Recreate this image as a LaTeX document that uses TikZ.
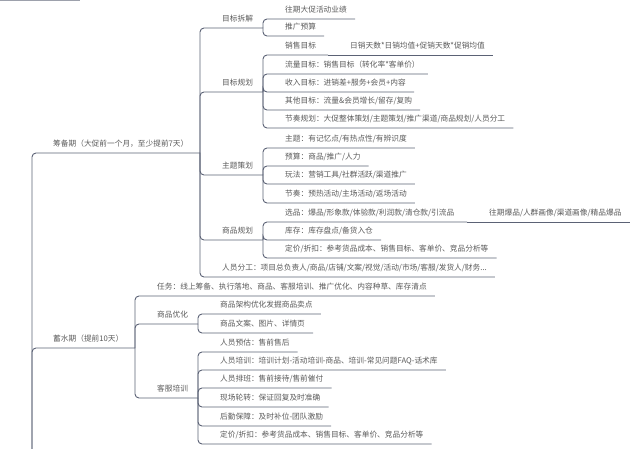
\documentclass[tikz,border=0pt]{standalone}
\usepackage{fontspec}
\setmainfont{Noto Sans CJK SC}
\usetikzlibrary{calc}
\definecolor{linec}{HTML}{5B6275}
\definecolor{txtc}{HTML}{5A5A5A}
\tikzset{
  topic/.style={anchor=south west,inner xsep=8pt,inner ysep=0pt,text depth=6.3pt,text=txtc,font=\fontsize{7.7}{9}\selectfont},
  branch/.style={draw=linec,line width=0.9pt,rounded corners=4pt},
}

\begin{document}
\begin{tikzpicture}[x=1pt,y=-1pt]
\useasboundingbox (0,0) rectangle (640,449);
\clip (0,0) rectangle (640,449);
\draw[draw=linec!60,line width=1.2pt] (0,0.6) -- (80,0.6);
% first level
\coordinate (root) at (32,480);
\node[topic] (cbq) at (45,153) {筹备期（大促前一个月，至少提前7天）};
\coordinate (cbq-b) at (200,153);
\node[topic] (xsq) at (45,348) {蓄水期（提前10天）};
\coordinate (xsq-b) at (135,348);
\draw[branch] (root) |- (cbq-b);
\draw[branch] (root) |- (xsq-b);
% 筹备期
\node[topic] (mbcj) at (214,28) {目标拆解};
\coordinate (mbcj-b) at (263,28);
\node[topic] (mbgh) at (214,92) {目标规划};
\coordinate (mbgh-b) at (263,92);
\node[topic] (ztch) at (214,175) {主题策划};
\coordinate (ztch-b) at (263,175);
\node[topic] (spgh) at (214,240) {商品规划};
\coordinate (spgh-b) at (263,240);
\node[topic] (ryfg) at (214,277) {人员分工：项目总负责人/商品/店铺/文案/视觉/活动/市场/客服/发货人/财务...};
\draw[branch] (cbq-b) |- (mbcj-b);
\draw[branch] (cbq-b) |- (mbgh-b);
\draw[branch] (cbq-b) |- (ztch-b);
\draw[branch] (cbq-b) |- (spgh-b);
\draw[branch] (cbq-b) |- (ryfg.south east);
% 目标拆解
\node[topic] (wqyj) at (277,19) {往期大促活动业绩};
\node[topic] (tgys) at (277,36) {推广预算};
\draw[branch] (mbcj-b) |- (wqyj.south east);
\draw[branch] (mbcj-b) |- (tgys.south east);
% 目标规划
\node[topic] (xsmb) at (277,55) {销售目标};
\coordinate (xsmb-b) at (328,55);
\node[topic] (rxts) at (342,55) {日销天数*日销均值+促销天数*促销均值};
\node[topic] (llmb) at (277,74) {流量目标：销售目标（转化率*客单价）};
\node[topic] (srmb) at (277,92) {收入目标：进销差+服务+会员+内容};
\node[topic] (qtmb) at (277,110) {其他目标：流量\&会员增长/留存/复购};
\node[topic] (jzgh) at (277,128) {节奏规划：大促整体策划/主题策划/推广渠道/商品规划/人员分工};
\draw[branch] (mbgh-b) |- (xsmb-b);
\draw[branch] (xsmb-b) -- (rxts.south east);
\draw[branch] (mbgh-b) |- (llmb.south east);
\draw[branch] (mbgh-b) |- (srmb.south east);
\draw[branch] (mbgh-b) |- (qtmb.south east);
\draw[branch] (mbgh-b) |- (jzgh.south east);
% 主题策划
\node[topic] (zt) at (277,148) {主题：有记忆点/有热点性/有辨识度};
\node[topic] (ys) at (277,166) {预算：商品/推广/人力};
\node[topic] (wf) at (277,184) {玩法：营销工具/社群活跃/渠道推广};
\node[topic] (jz) at (277,203) {节奏：预热活动/主场活动/返场活动};
\draw[branch] (ztch-b) |- (zt.south east);
\draw[branch] (ztch-b) |- (ys.south east);
\draw[branch] (ztch-b) |- (wf.south east);
\draw[branch] (ztch-b) |- (jz.south east);
% 商品规划
\node[topic] (xp) at (277,222) {选品：爆品/形象款/体验款/利润款/清仓款/引流品};
\coordinate (xp-b) at (467,222);
\node[topic] (wqbp) at (481,222) {往期爆品/人群画像/渠道画像/精品爆品};
\node[topic] (kc) at (277,240) {库存：库存盘点/备货入仓};
\node[topic] (djzk) at (277,258) {定价/折扣：参考货品成本、销售目标、客单价、竞品分析等};
\draw[branch] (spgh-b) |- (xp-b);
\draw[branch] (xp-b) -- (wqbp.south east);
\draw[branch] (spgh-b) |- (kc.south east);
\draw[branch] (spgh-b) |- (djzk.south east);
% 蓄水期
\node[topic] (rw) at (149,296) {任务：线上筹备、执行落地、商品、客服培训、推广优化、内容种草、库存清点};
\node[topic] (spyh) at (149,324) {商品优化};
\coordinate (spyh-b) at (198,324);
\node[topic] (kfpx) at (149,398) {客服培训};
\coordinate (kfpx-b) at (198,398);
\draw[branch] (xsq-b) |- (rw.south east);
\draw[branch] (xsq-b) |- (spyh-b);
\draw[branch] (xsq-b) |- (kfpx-b);
% 商品优化
\node[topic] (spjg) at (212,314) {商品架构优化发掘商品卖点};
\node[topic] (spwa) at (212,333) {商品文案、图片、详情页};
\draw[branch] (spyh-b) |- (spjg.south east);
\draw[branch] (spyh-b) |- (spwa.south east);
% 客服培训
\node[topic] (rypg) at (212,352) {人员预估：售前售后};
\node[topic] (rypx) at (212,370) {人员培训：培训计划-活动培训-商品、培训-常见问题FAQ-话术库};
\node[topic] (rypb) at (212,388) {人员排班：售前接待/售前催付};
\node[topic] (xclz) at (212,407) {现场轮转：保证回复及时准确};
\node[topic] (hqbz) at (212,426) {后勤保障：及时补位-团队激励};
\node[topic] (djzk2) at (212,444) {定价/折扣：参考货品成本、销售目标、客单价、竞品分析等};
\draw[branch] (kfpx-b) |- (rypg.south east);
\draw[branch] (kfpx-b) |- (rypx.south east);
\draw[branch] (kfpx-b) |- (rypb.south east);
\draw[branch] (kfpx-b) |- (xclz.south east);
\draw[branch] (kfpx-b) |- (hqbz.south east);
\draw[branch] (kfpx-b) |- (djzk2.south east);
\end{tikzpicture}
\end{document}
